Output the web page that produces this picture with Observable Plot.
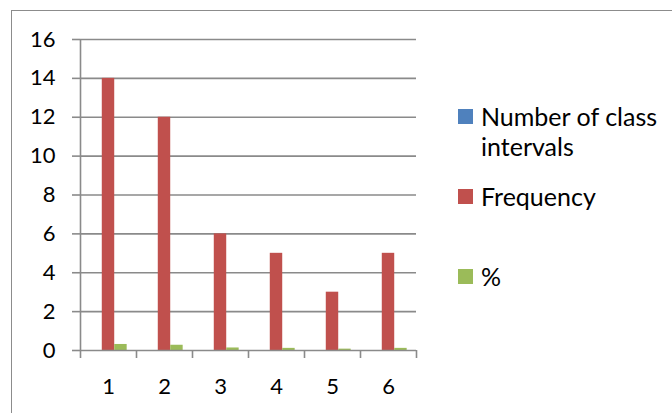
<!DOCTYPE html>
<html>
<head>
<meta charset="utf-8">
<script src="https://cdn.jsdelivr.net/npm/d3@7"></script>
<script src="https://cdn.jsdelivr.net/npm/@observablehq/plot@0.6"></script>
<style>
  html, body { margin: 0; padding: 0; background: #fff; overflow: hidden; }
  #chart { position: relative; width: 672px; height: 413px; overflow: hidden;
           font-family: Lato, "Open Sans", sans-serif; color: #000; }
  #frame { position: absolute; left: 11px; top: 10px; width: 740px; height: 480px;
           border: 1.5px solid #8c8c8c; box-sizing: border-box; }
  #plot { position: absolute; left: 0; top: 0; }
  #plot svg text { font-size: 22px; font-family: Lato, sans-serif; }
  .item { position: absolute; left: 458px; }
  .swatch { position: absolute; left: 0; width: 15px; height: 15px; }
  .label { position: absolute; left: 23px; top: -8px; width: 200px;
           font-size: 25px; line-height: 30px; white-space: normal; }
</style>
</head>
<body>
<div id="chart">
  <div id="frame"></div>
  <div id="plot"></div>
  <div id="legend"></div>
</div>
<script>
// Categories (class number) and the three series per category
const categories = ["1", "2", "3", "4", "5", "6"];
const seriesNames = ["Number of class intervals", "Frequency", "%"];
const classIntervals = [0, 0, 0, 0, 0, 0];
const frequency = [14, 12, 6, 5, 3, 5];
const percent = [0.31, 0.27, 0.13, 0.11, 0.07, 0.11];
const yTicks = [0, 2, 4, 6, 8, 10, 12, 14, 16];
const seriesColors = ["#4F81BD", "#C0504D", "#9BBB59"];

// Layout
const W = 672, H = 413;
const mL = 80, mR = 256, mT = 39, mB = 63;
const gridColor = "#8a8a8a";
const step = (W - mL - mR) / categories.length;
const barW = step / 4.5;               // three bars plus a 150% gap
const gap = (step - 3 * barW) / 2;

const rows = (values, s) =>
  categories.map((c, j) => ({cat: c, value: values[j], series: seriesNames[s]}));
const seriesValues = [classIntervals, frequency, percent];

const bars = seriesValues.map((vals, s) =>
  Plot.barY(rows(vals, s), {
    x: "cat", y: "value", fill: seriesColors[s],
    insetLeft: gap + s * barW,
    insetRight: gap + (2 - s) * barW
  })
);

const chart = Plot.plot({
  width: W, height: H,
  marginLeft: mL, marginRight: mR, marginTop: mT, marginBottom: mB,
  style: {fontFamily: "Lato, 'Open Sans', sans-serif", fontSize: "22px",
          color: "#000", background: "transparent"},
  x: {domain: categories, padding: 0},
  y: {domain: [0, 16]},
  marks: [
    // horizontal gridlines
    Plot.ruleY(yTicks.filter(t => t > 0), {stroke: gridColor, strokeWidth: 1.6}),
    // value axis with outward ticks
    Plot.axisY({ticks: yTicks, tickSize: 8, tickPadding: 17, stroke: gridColor,
                strokeWidth: 1.6, fill: "#000", fontSize: 22, label: null}),
    // vertical axis line at the left edge of the first category
    Plot.ruleX([categories[0]], {dx: -step / 2, stroke: gridColor, strokeWidth: 1.6}),
    ...bars,
    // category axis: baseline, boundary ticks and centred labels
    Plot.ruleY([0], {stroke: gridColor, strokeWidth: 1.6}),
    Plot.axisX({tickSize: 8, dx: -step / 2, tickFormat: null, stroke: gridColor,
                strokeWidth: 1.6, label: null}),
    Plot.axisX({ticks: [categories[categories.length - 1]], tickSize: 8, dx: step / 2,
                tickFormat: null, stroke: gridColor, strokeWidth: 1.6, label: null}),
    Plot.axisX({tickSize: 0, tickPadding: 28, fontSize: 22, fill: "#000", label: null})
  ]
});
document.getElementById("plot").appendChild(chart);

// Legend on the right side of the chart area
const legendTops = [109, 189, 269];
const legend = document.getElementById("legend");
seriesNames.forEach((name, i) => {
  const item = document.createElement("div");
  item.className = "item";
  item.style.top = legendTops[i] + "px";
  const sw = document.createElement("div");
  sw.className = "swatch";
  sw.style.background = seriesColors[i];
  const lab = document.createElement("div");
  lab.className = "label";
  lab.textContent = name;
  item.appendChild(sw);
  item.appendChild(lab);
  legend.appendChild(item);
});
</script>
</body>
</html>
